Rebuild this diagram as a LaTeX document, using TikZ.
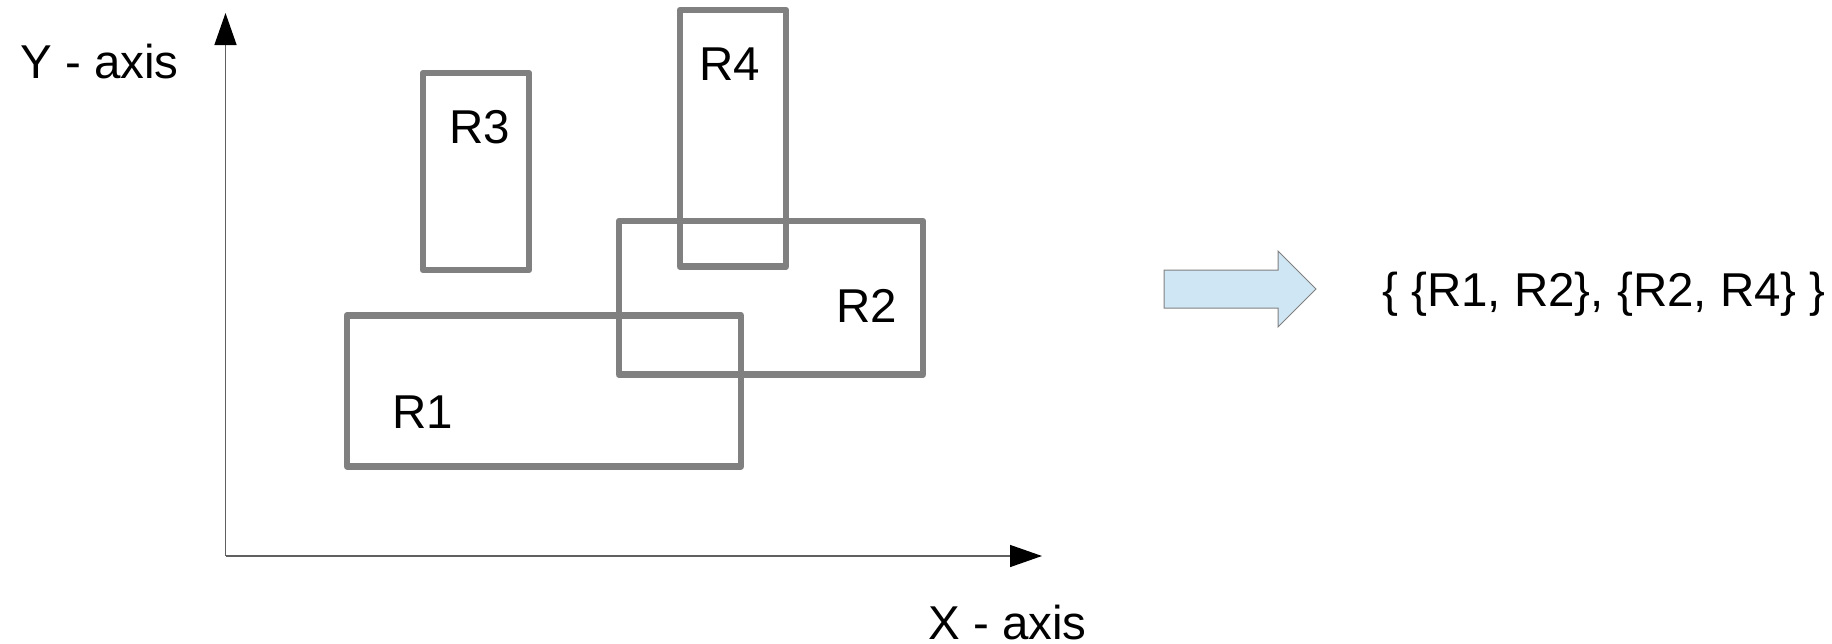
\documentclass[tikz,border=0pt]{standalone}
\usepackage{fontspec}
\setmainfont{Liberation Sans}
\usepackage{xcolor}
\usetikzlibrary{arrows.meta,positioning,calc}

\definecolor{rectgray}{HTML}{808080}
\definecolor{axisgray}{HTML}{606060}
\definecolor{arrowblue}{HTML}{CFE7F5}

\begin{document}
\begin{tikzpicture}[
  x=1pt, y=-1pt,
  rect/.style={draw=rectgray, line width=6.5pt, line join=round},
  axis/.style={draw=axisgray, line width=1.4pt,
               -{Triangle[length=32pt, width=22pt, color=black]}},
  txt/.style={inner sep=0pt, font=\fontsize{47.5}{57}\selectfont},
  bigarrow/.style={draw=rectgray, line width=1pt, fill=arrowblue}
]
  \useasboundingbox (0,0) rectangle (1832,643);

  % Axes
  \coordinate (origin) at (225.5,556);
  \coordinate (ytip) at (225.5,13);
  \coordinate (xtip) at (1042,556);
  \draw[axis] (origin) -- (ytip);
  \draw[axis] (origin) -- (xtip);
  \node[txt, anchor=base west] (ylabel) at (20,78) {Y - axis};
  \node[txt, anchor=base west] (xlabel) at (928,639) {X - axis};

  % Rectangles
  \draw[rect] (347,315.3) rectangle (741,466.3);
  \draw[rect] (619,221) rectangle (923,374.7);
  \draw[rect] (423,73) rectangle (529,270);
  \draw[rect] (680,10) rectangle (786,266.7);
  \node[txt, anchor=base] (r1) at (422.5,428) {R1};
  \node[txt, anchor=base] (r2) at (866.5,322) {R2};
  \node[txt, anchor=base] (r3) at (480,143) {R3};
  \node[txt, anchor=base] (r4) at (730,80) {R4};

  % Result
  \draw[bigarrow] (1164,270) -- (1278,270) -- (1278,251) -- (1316,289)
    -- (1278,327) -- (1278,308) -- (1164,308) -- cycle;
  \node[txt, anchor=base west] (pairs) at (1382,306) {\{ \{R1, R2\}, \{R2, R4\} \}};
\end{tikzpicture}
\end{document}
